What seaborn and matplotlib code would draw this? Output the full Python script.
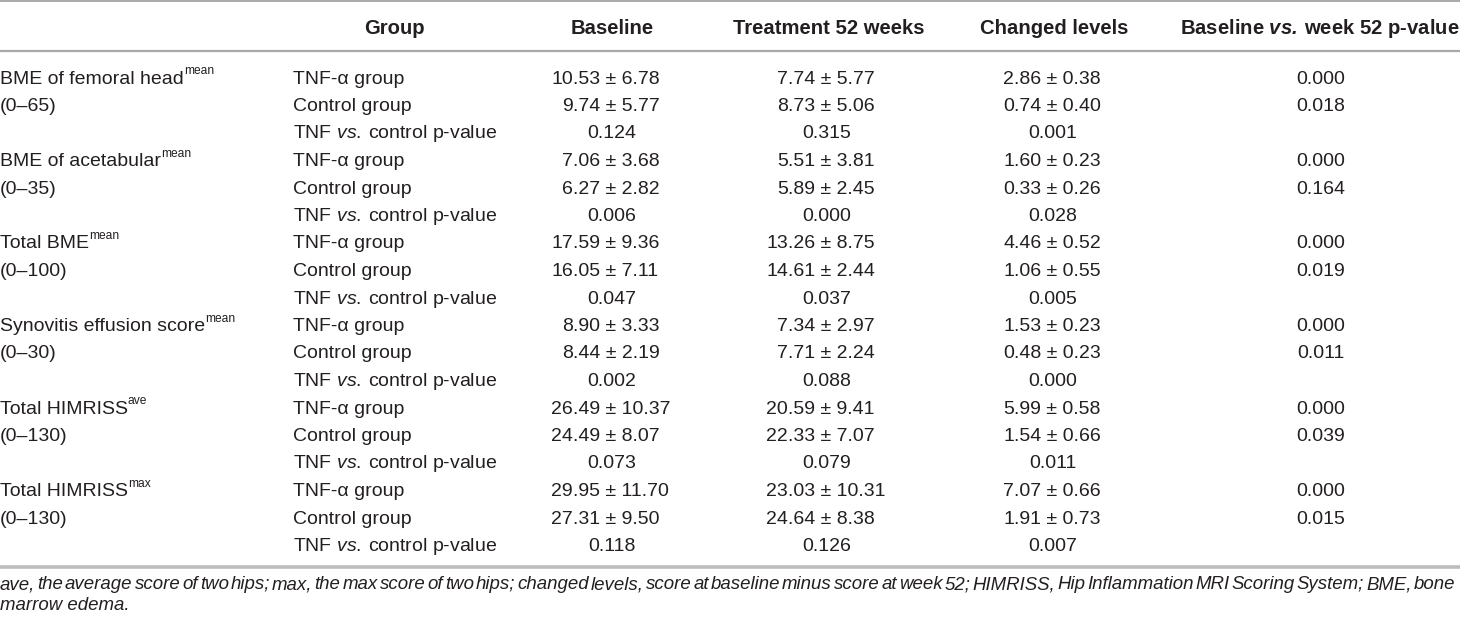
import seaborn as sns
import matplotlib
matplotlib.use("Agg")
import matplotlib.pyplot as plt

# ---------------- data ----------------
measures = ["BME of femoral head", "BME of acetabular", "Total BME",
            "Synovitis effusion score", "Total HIMRISS", "Total HIMRISS"]
measure_sups = ["mean", "mean", "mean", "mean", "ave", "max"]
measure_ranges = ["(0\u201365)", "(0\u201335)", "(0\u2013100)",
                  "(0\u201330)", "(0\u2013130)", "(0\u2013130)"]

groups = ["TNF-\u03b1 group", "Control group", r"TNF $\mathit{vs.}\:$control p-value"]

columns = ["Group", "Baseline", "Treatment 52 weeks", "Changed levels",
           r"Baseline $\mathbfit{vs.}\:$week 52 p-value"]

# TNF-alpha group: mean, sd
tnf_base = [(10.53, 6.78), (7.06, 3.68), (17.59, 9.36), (8.90, 3.33), (26.49, 10.37), (29.95, 11.70)]
tnf_w52 = [(7.74, 5.77), (5.51, 3.81), (13.26, 8.75), (7.34, 2.97), (20.59, 9.41), (23.03, 10.31)]
tnf_chg = [(2.86, 0.38), (1.60, 0.23), (4.46, 0.52), (1.53, 0.23), (5.99, 0.58), (7.07, 0.66)]
tnf_p = [0.000, 0.000, 0.000, 0.000, 0.000, 0.000]

# control group: mean, sd
ctl_base = [(9.74, 5.77), (6.27, 2.82), (16.05, 7.11), (8.44, 2.19), (24.49, 8.07), (27.31, 9.50)]
ctl_w52 = [(8.73, 5.06), (5.89, 2.45), (14.61, 2.44), (7.71, 2.24), (22.33, 7.07), (24.64, 8.38)]
ctl_chg = [(0.74, 0.40), (0.33, 0.26), (1.06, 0.55), (0.48, 0.23), (1.54, 0.66), (1.91, 0.73)]
ctl_p = [0.018, 0.164, 0.019, 0.011, 0.039, 0.015]

# TNF vs control p-values
p_base = [0.124, 0.006, 0.047, 0.002, 0.073, 0.118]
p_w52 = [0.315, 0.000, 0.037, 0.088, 0.079, 0.126]
p_chg = [0.001, 0.028, 0.005, 0.000, 0.011, 0.007]

footnote = ["ave, the average score of two hips; max, the max score of two hips; changed levels, "
            "score at baseline minus score at week 52; HIMRISS, Hip Inflammation MRI Scoring System; BME, bone",
            "marrow edema."]

# ---------------- style ----------------
sns.set_style("white")
plt.rcParams["font.family"] = ["Liberation Sans", "DejaVu Sans"]
plt.rcParams["mathtext.fontset"] = "custom"
plt.rcParams["mathtext.rm"] = "Liberation Sans"
plt.rcParams["mathtext.it"] = "Liberation Sans:italic"
plt.rcParams["mathtext.bf"] = "Liberation Sans:bold"
plt.rcParams["mathtext.bfit"] = "Liberation Sans:italic:bold"

ink = "#231f20"
rule = "#a8a8a8"
fs = 14
fs_head = 14.6
fs_note = 13.4

fig = plt.figure(figsize=(14.6, 6.2), dpi=100)
ax = fig.add_axes([0, 0, 1, 1])
ax.set_xlim(0, 1460)
ax.set_ylim(620, 0)
ax.axis("off")

# layout (px)
x_measure = 0
x_group = 293
x_heads = [394, 612, 829, 1054, 1320]
x_pval = [612, 827, 1053, 1321]     # centred p-values
x_dec = [573, 788, 1014]           # decimal point of the mean in "mean ± sd"
y_head = 33.5
y_row0 = 83.5
dy = 27.5

# rules
ax.axhline(1.2, color=rule, lw=1.4)
ax.axhline(50.5, color=rule, lw=1.6)
ax.axhline(567, color="#bdbdbd", lw=2.6)

# header
for x, lab in zip(x_heads, columns):
    ax.text(x, y_head, lab, ha="center", va="baseline", fontsize=fs_head,
            fontweight="bold", color=ink)


def pm_cell(x, y, v):
    # mean ± sd aligned on the decimal point of the mean
    whole, frac = f"{v[0]:.2f}".split(".")
    ax.text(x, y, whole, ha="right", va="baseline", fontsize=fs, color=ink)
    ax.text(x, y, f".{frac} \u00b1 {v[1]:.2f}", ha="left", va="baseline",
            fontsize=fs, color=ink)


for i in range(len(measures)):
    y0 = y_row0 + i * 3 * dy
    t = ax.text(x_measure, y0, measures[i], ha="left", va="baseline", fontsize=fs, color=ink)
    ax.annotate(measure_sups[i], xy=(1, 0.6), xycoords=t, ha="left", va="bottom",
                fontsize=fs * 0.62, color=ink)
    ax.text(x_measure, y0 + dy, measure_ranges[i], ha="left", va="baseline",
            fontsize=fs, color=ink)

    for j in range(3):
        ax.text(x_group, y0 + j * dy, groups[j], ha="left", va="baseline",
                fontsize=fs, color=ink)

    # TNF-alpha and control rows
    for j, (b, w, c, p) in enumerate([(tnf_base[i], tnf_w52[i], tnf_chg[i], tnf_p[i]),
                                      (ctl_base[i], ctl_w52[i], ctl_chg[i], ctl_p[i])]):
        y = y0 + j * dy
        for x, v in zip(x_dec, [b, w, c]):
            pm_cell(x, y, v)
        ax.text(x_pval[3], y, f"{p:.3f}", ha="center", va="baseline", fontsize=fs, color=ink)

    # TNF vs control p-value row
    for x, p in zip(x_pval[:3], [p_base[i], p_w52[i], p_chg[i]]):
        ax.text(x, y0 + 2 * dy, f"{p:.3f}", ha="center", va="baseline", fontsize=fs, color=ink)

# footnote: first line justified to the table width
renderer = fig.canvas.get_renderer()
words = footnote[0].split(" ")
wt = [ax.text(0, 589, w, ha="left", va="baseline", fontsize=fs_note, style="italic", color=ink)
      for w in words]
widths = [t.get_window_extent(renderer).width for t in wt]
gap = (1455 - sum(widths)) / (len(words) - 1)
xx = 0
for t, w in zip(wt, widths):
    t.set_x(xx)
    xx += w + gap
ax.text(0, 610, footnote[1], ha="left", va="baseline", fontsize=fs_note,
        style="italic", color=ink)

fig.savefig("out.png", dpi=100, facecolor="white")
